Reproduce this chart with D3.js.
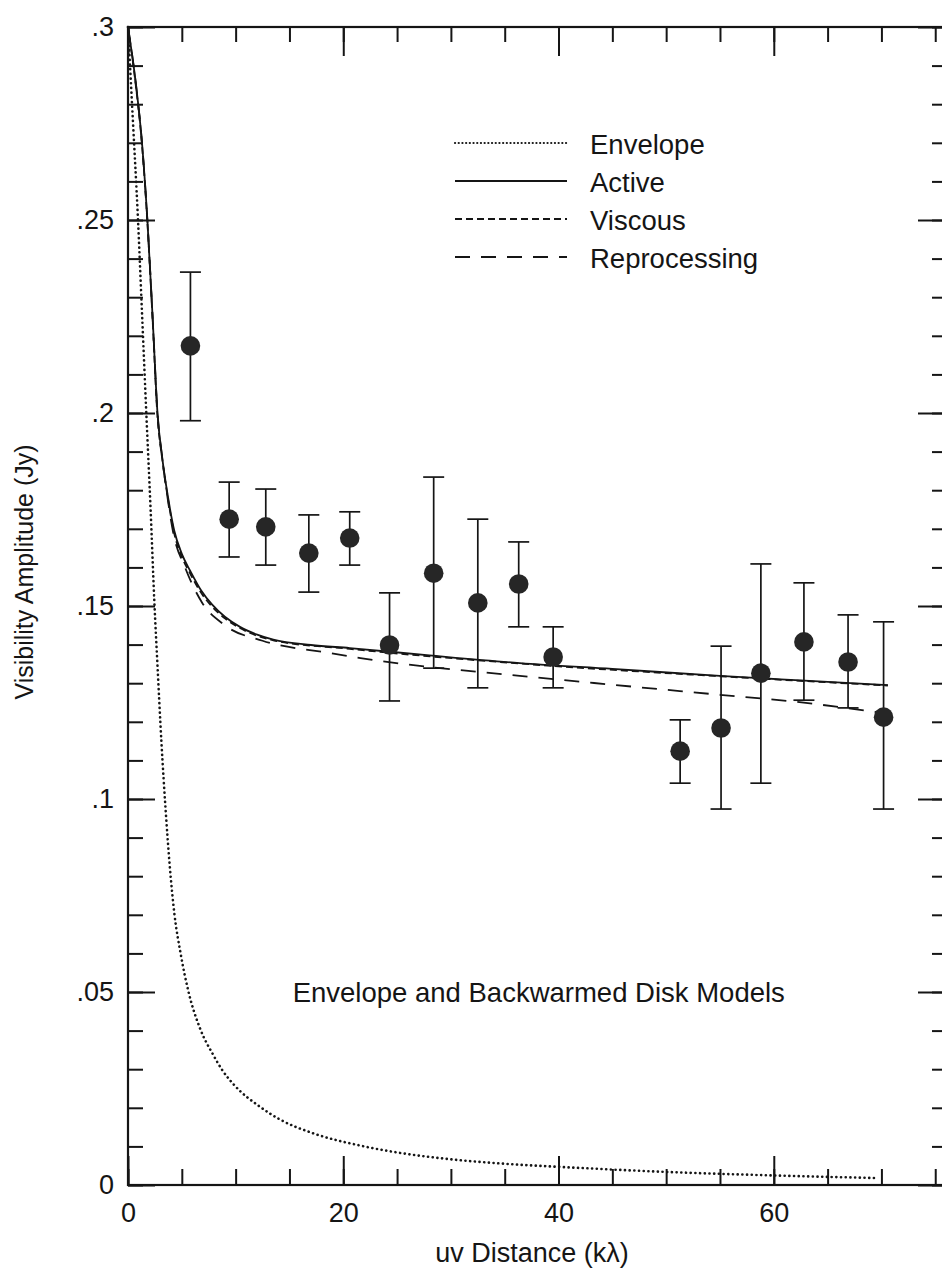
<!DOCTYPE html>
<html>
<head>
<meta charset="utf-8">
<script src="https://cdn.jsdelivr.net/npm/d3@7"></script>
<style>
  body { margin: 0; background: #fff; }
  svg { display: block; font-family: "Liberation Sans", Arial, sans-serif; }
</style>
</head>
<body>
<script>
// Measured visibilities: uv distance (kλ), amplitude (Jy), error bar limits
const uvDist = [5.8, 9.4, 12.8, 16.8, 20.6, 24.3, 28.4, 32.5, 36.3, 39.5, 51.3, 55.1, 58.8, 62.8, 66.9, 70.2];
const amp    = [.2174, .1725, .1705, .1637, .1676, .1399, .1585, .1508, .1557, .1368, .1124, .1184, .1326, .1407, .1355, .1212];
const ampHi  = [.2365, .1821, .1803, .1736, .1744, .1534, .1834, .1725, .1666, .1446, .1205, .1396, .1609, .1560, .1477, .1459];
const ampLo  = [.1980, .1627, .1606, .1536, .1606, .1254, .1339, .1288, .1446, .1288, .1041, .0974, .1041, .1256, .1236, .0974];

// Model curves, [uv, amplitude]
const envelopeCurve = [[0, .3], [0.45, .276], [0.93, .25], [1.3, .226], [1.7, .2], [2.1, .175], [2.45, .151],
  [2.75, .134], [3.1, .115], [3.5, .097], [3.9, .082], [4.3, .0705], [4.9, .0598], [5.6, .0503], [6.7, .0405],
  [7.9, .0338], [8.8, .0296], [9.9, .0258], [12.3, .0202], [14.1, .0170], [17.2, .0134], [21.6, .0102],
  [25.3, .0083], [30.2, .0066], [35, .0055], [40.1, .0047], [49.9, .0034], [59.7, .0025], [69.6, .0018]];
const activeCurve = [[0, .3], [0.7, .286], [1.3, .27], [1.8, .25], [2.3, .224], [2.74, .2], [3.2, .188],
  [3.7, .1785], [4.3, .1695], [5.0, .1635], [5.8, .1590], [6.8, .1540], [7.8, .1504], [9.0, .1472],
  [10.4, .1446], [12, .1426], [13.5, .1413], [17, .1399], [20.6, .1391], [28, .1372], [36.4, .1352], [45, .1337],
  [55, .1319], [62, .1308], [70.6, .1295]];
const viscousCurve = [[0, .3], [0.7, .2855], [1.3, .2695], [1.8, .2495], [2.3, .2235], [2.72, .2], [3.2, .1877],
  [3.7, .1780], [4.3, .1688], [5.0, .1628], [5.8, .1583], [6.8, .1534], [7.8, .1499], [9.0, .1468],
  [10.4, .1443], [13.5, .1411], [20.6, .1389], [36.4, .1351], [55, .1318], [70.6, .1294]];
const reprocCurve = [[0, .3], [0.7, .286], [1.3, .27], [1.8, .25], [2.3, .224], [2.74, .2], [3.2, .188],
  [3.65, .1785], [4.2, .1690], [5.3, .1600], [6.9, .1508], [9.0, .1450], [12.5, .1410], [18.8, .1378],
  [21.6, .1365], [36.4, .1319], [45, .1296], [55, .127], [62, .1252], [69.6, .1225]];

const legendNames = ["Envelope", "Active", "Viscous", "Reprocessing"];
const legendDash  = ["0.1,4.6", null, "7,4", "15,11"];

const xMajor = [0, 20, 40, 60];
const xMinor = d3.range(0, 76, 5);
const yMajor = [0, .05, .1, .15, .2, .25, .3];
const yMinor = d3.range(0, .301, .01);

const W = 942, H = 1269;
const svg = d3.select("body").append("svg")
    .attr("width", W)
    .attr("height", H);

const x = d3.scaleLinear().domain([0, 76]).range([128, 946]);
const y = d3.scaleLinear().domain([0, .3]).range([1185, 27]);

const ink = "#151515";
const fmt = d => d === 0 ? "0" : String(+d.toFixed(2)).replace(/^0/, "");

// Frame
svg.append("rect")
    .attr("x", x(0)).attr("y", y(.3))
    .attr("width", x(76) - x(0)).attr("height", y(0) - y(.3))
    .attr("fill", "none")
    .attr("stroke", ink)
    .attr("stroke-width", 2.2);

function styleAxis(g) {
    g.select(".domain").remove();
    g.selectAll("line").attr("stroke", ink).attr("stroke-width", 2);
    g.selectAll("text").attr("fill", ink).style("font-size", "27px");
}

// Bottom axis (ticks point inward)
svg.append("g").attr("transform", `translate(0,${y(0)})`)
    .call(d3.axisBottom(x).tickValues(xMinor).tickSize(-16).tickFormat(""))
    .call(styleAxis);
svg.append("g").attr("transform", `translate(0,${y(0)})`)
    .call(d3.axisBottom(x).tickValues(xMajor).tickSize(-29).tickPadding(18).tickFormat(d3.format("d")))
    .call(styleAxis);

// Top axis
svg.append("g").attr("transform", `translate(0,${y(.3)})`)
    .call(d3.axisTop(x).tickValues(xMinor).tickSize(-15).tickFormat(""))
    .call(styleAxis);
svg.append("g").attr("transform", `translate(0,${y(.3)})`)
    .call(d3.axisTop(x).tickValues(xMajor).tickSize(-29).tickFormat(""))
    .call(styleAxis);

// Left axis
svg.append("g").attr("transform", `translate(${x(0)},0)`)
    .call(d3.axisLeft(y).tickValues(yMinor).tickSize(-15).tickFormat(""))
    .call(styleAxis);
svg.append("g").attr("transform", `translate(${x(0)},0)`)
    .call(d3.axisLeft(y).tickValues(yMajor).tickSize(-27).tickPadding(14).tickFormat(fmt))
    .call(styleAxis);

// Right axis
svg.append("g").attr("transform", `translate(${x(76)},0)`)
    .call(d3.axisRight(y).tickValues(yMinor).tickSize(-14).tickFormat(""))
    .call(styleAxis);
svg.append("g").attr("transform", `translate(${x(76)},0)`)
    .call(d3.axisRight(y).tickValues(yMajor).tickSize(-28).tickFormat(""))
    .call(styleAxis);

// Axis titles
svg.append("text")
    .attr("x", 532).attr("y", 1262)
    .attr("text-anchor", "middle")
    .attr("fill", ink)
    .style("font-size", "27px")
    .text("uv Distance (kλ)");

svg.append("text")
    .attr("transform", "translate(24,572) rotate(-90)")
    .attr("text-anchor", "middle")
    .attr("dominant-baseline", "central")
    .attr("fill", ink)
    .style("font-size", "25px")
    .text("Visibility Amplitude (Jy)");

// Model curves
const line = d3.line()
    .x(d => x(d[0]))
    .y(d => y(d[1]))
    .curve(d3.curveMonotoneX);

const curves = [envelopeCurve, activeCurve, viscousCurve, reprocCurve];
curves.forEach((c, i) => {
    svg.append("path")
        .datum(c)
        .attr("d", line)
        .attr("fill", "none")
        .attr("stroke", ink)
        .attr("stroke-width", i === 0 ? 2.6 : 1.8)
        .attr("stroke-linecap", i === 0 ? "round" : "butt")
        .attr("stroke-dasharray", legendDash[i]);
});

// Error bars and points
const pts = uvDist.map((u, i) => ({ u, v: amp[i], hi: ampHi[i], lo: ampLo[i] }));
const cap = 10.5;
const eb = svg.append("g").attr("stroke", ink).attr("stroke-width", 1.7);
eb.selectAll(".bar").data(pts).join("line")
    .attr("x1", d => x(d.u)).attr("x2", d => x(d.u))
    .attr("y1", d => y(d.lo)).attr("y2", d => y(d.hi));
eb.selectAll(".capHi").data(pts).join("line")
    .attr("x1", d => x(d.u) - cap).attr("x2", d => x(d.u) + cap)
    .attr("y1", d => y(d.hi)).attr("y2", d => y(d.hi));
eb.selectAll(".capLo").data(pts).join("line")
    .attr("x1", d => x(d.u) - cap).attr("x2", d => x(d.u) + cap)
    .attr("y1", d => y(d.lo)).attr("y2", d => y(d.lo));

svg.append("g").selectAll("circle").data(pts).join("circle")
    .attr("cx", d => x(d.u))
    .attr("cy", d => y(d.v))
    .attr("r", 9.8)
    .attr("fill", "#262626");

// Legend
const legend = svg.append("g").attr("transform", "translate(455,143)");
legendNames.forEach((name, i) => {
    const row = legend.append("g").attr("transform", `translate(0,${i * 38})`);
    row.append("line")
        .attr("x1", 0).attr("x2", 112)
        .attr("stroke", ink)
        .attr("stroke-width", i === 0 ? 2.2 : 1.8)
        .attr("stroke-linecap", i === 0 ? "round" : "butt")
        .attr("stroke-dasharray", i === 0 ? "0.1,3.6" : legendDash[i]);
    row.append("text")
        .attr("x", 135).attr("y", 1)
        .attr("dominant-baseline", "central")
        .attr("fill", ink)
        .style("font-size", "27.5px")
        .text(name);
});

// Annotation
svg.append("text")
    .attr("x", x(15.3)).attr("y", y(.0474))
    .attr("fill", ink)
    .style("font-size", "27.5px")
    .text("Envelope and Backwarmed Disk Models");
</script>
</body>
</html>
